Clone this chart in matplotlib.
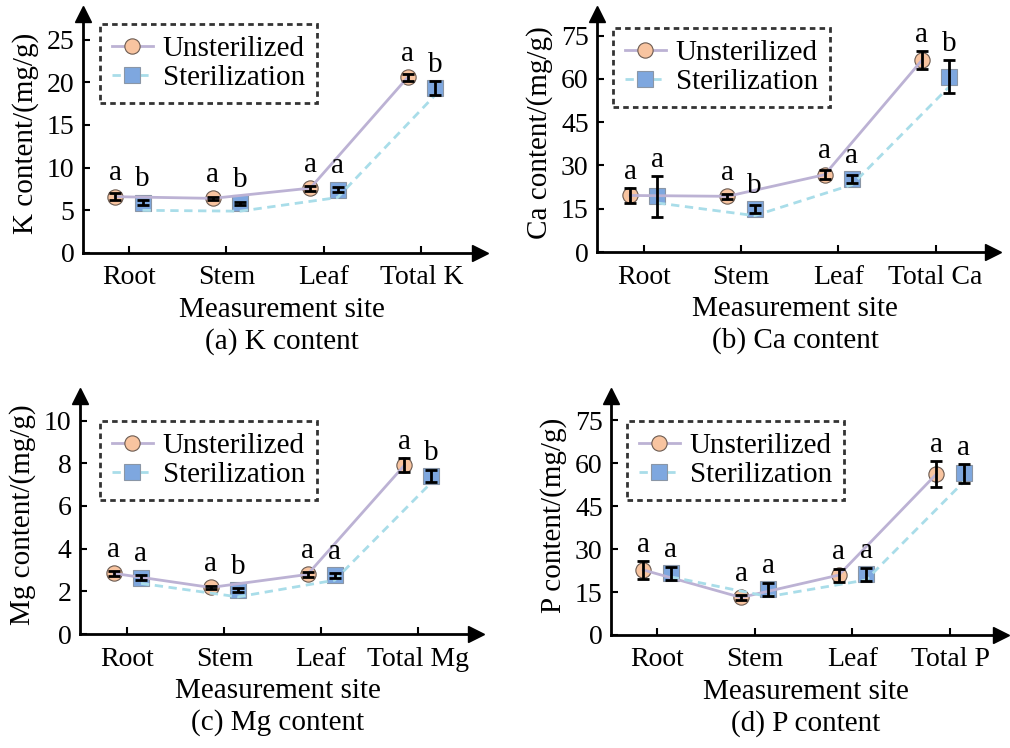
import matplotlib.pyplot as plt
import numpy as np

plt.rcParams["font.family"] = ["Liberation Serif", "DejaVu Serif"]

sites = ["Root", "Stem", "Leaf"]
legend_names = ["Unsterilized", "Sterilization"]

# K content (mg/g)
k_unster = [6.6, 6.4, 7.6, 20.6]
k_unster_err = [0.4, 0.2, 0.3, 0.4]
k_ster = [5.9, 5.8, 7.4, 19.3]
k_ster_err = [0.3, 0.2, 0.3, 0.8]
k_ster_line = [5.0, 4.9, 6.5, 18.5]
k_letters_u = ["a", "a", "a", "a"]
k_letters_s = ["b", "b", "a", "b"]

# Ca content (mg/g)
ca_unster = [19.6, 19.3, 26.8, 66.5]
ca_unster_err = [2.7, 0.8, 1.5, 3.2]
ca_ster = [19.3, 14.9, 25.3, 60.8]
ca_ster_err = [7.0, 1.5, 1.5, 5.8]
ca_ster_line = [17.0, 12.6, 23.3, 57.3]
ca_letters_u = ["a", "a", "a", "a"]
ca_letters_s = ["a", "b", "a", "b"]

# Mg content (mg/g)
mg_unster = [2.84, 2.18, 2.79, 7.9]
mg_unster_err = [0.1, 0.08, 0.1, 0.33]
mg_ster = [2.63, 2.06, 2.76, 7.4]
mg_ster_err = [0.12, 0.08, 0.12, 0.3]
mg_ster_line = [2.37, 1.74, 2.52, 7.1]
mg_letters_u = ["a", "a", "a", "a"]
mg_letters_s = ["a", "b", "a", "b"]

# P content (mg/g)
p_unster = [22.7, 13.1, 20.9, 56.2]
p_unster_err = [3.2, 1.0, 2.3, 4.6]
p_ster = [21.5, 15.9, 21.2, 56.4]
p_ster_err = [2.3, 2.2, 2.2, 3.3]
p_ster_line = [20.3, 13.4, 19.2, 53.5]
p_letters_u = ["a", "a", "a", "a"]
p_letters_s = ["a", "a", "a", "a"]

C_UNSTER_FILL = "#f8c4a0"
C_UNSTER_EDGE = "#6b5a50"
C_UNSTER_LINE = "#bcb2d4"
C_STER_FILL = "#7ea7df"
C_STER_EDGE = "#8a96a6"
C_STER_LINE = "#a9dde9"

W, H = 1010, 748
fig = plt.figure(figsize=(W / 100, H / 100), dpi=100)


def px_axes(left, right, bottom, top):
    # pixel box (from the top-left corner) -> figure fraction
    return fig.add_axes([left / W, 1 - bottom / H, (right - left) / W, (bottom - top) / H])


def panel(box, xlim, ymax, yticks, unster, unster_err, ster, ster_err, ster_line,
          let_u, let_s, total_name, ylabel, title, leg_box):
    ax = px_axes(*box)
    x = np.arange(1, 5)
    off = 0.14
    xu = x - off
    xs = x + off

    # markers first, then lines and error bars on top (as in the original figure)
    ax.plot(xu, unster, "o", ms=11, mfc=C_UNSTER_FILL, mec=C_UNSTER_EDGE, mew=0.8, zorder=2)
    ax.plot(xs, ster, "s", ms=11, mfc=C_STER_FILL, mec=C_STER_EDGE, mew=0.8, zorder=2)
    ax.plot(xu, unster, "-", color=C_UNSTER_LINE, lw=2, zorder=3)
    ax.plot(xs, ster_line, "--", color=C_STER_LINE, lw=2, dashes=(3, 2), zorder=3)
    ax.errorbar(xu, unster, yerr=unster_err, fmt="none", ecolor="black", elinewidth=2,
                capsize=4, capthick=2, zorder=4)
    ax.errorbar(xs, ster, yerr=ster_err, fmt="none", ecolor="black", elinewidth=2,
                capsize=4, capthick=2, zorder=4)

    ax.set_xlim(*xlim)
    ax.set_ylim(0, ymax)
    ax.set_yticks(yticks)
    ax.set_xticks(x)
    ax.set_xticklabels(sites + [total_name])
    ax.tick_params(direction="in", length=5, width=1.5, labelsize=20, pad=6)
    ax.tick_params(axis="x", pad=9)
    for s in ["top", "right"]:
        ax.spines[s].set_visible(False)
    for s in ["left", "bottom"]:
        ax.spines[s].set_linewidth(2)
    ax.plot(1, 0, ">k", ms=11, transform=ax.get_yaxis_transform(), clip_on=False)
    ax.plot(xlim[0], 1, "^k", ms=11, transform=ax.get_xaxis_transform(), clip_on=False)

    ax.set_xlabel("Measurement site", fontsize=21, labelpad=5)
    ax.set_ylabel(ylabel, fontsize=21, labelpad=6)
    ax.text(0.5, -89 / (box[2] - box[3]), title, transform=ax.transAxes, ha="center",
            va="center", fontsize=21)

    # significance letters just above marker / error bar
    pts_per_unit = (box[2] - box[3]) * 0.72 / ymax
    for xi, v, e, l in zip(xu, unster, unster_err, let_u):
        o = max(e * pts_per_unit, 5.5) + 2
        ax.annotate(l, (xi, v), xytext=(0, o), textcoords="offset points", ha="center",
                    va="bottom", fontsize=21)
    for xi, v, e, l in zip(xs, ster, ster_err, let_s):
        o = max(e * pts_per_unit, 5.5) + 2
        ax.annotate(l, (xi, v), xytext=(0, o), textcoords="offset points", ha="center",
                    va="bottom", fontsize=21)

    hu, = ax.plot([], [], "-o", color=C_UNSTER_LINE, lw=2, ms=11, mfc=C_UNSTER_FILL,
                  mec=C_UNSTER_EDGE, mew=0.8)
    hs, = ax.plot([], [], "--s", color=C_STER_LINE, lw=2, dashes=(3, 2), ms=11,
                  mfc=C_STER_FILL, mec=C_STER_EDGE, mew=0.8)
    l0, r0, t0, b0 = leg_box
    leg = ax.legend([hu, hs], legend_names, loc="upper left",
                    bbox_to_anchor=((l0 - box[0]) / (box[1] - box[0]),
                                    (box[2] - t0) / (box[2] - box[3])),
                    fontsize=21, frameon=True, fancybox=False, handlelength=1.4,
                    borderpad=0.4, labelspacing=0.1, handletextpad=0.35, borderaxespad=0)
    fr = leg.get_frame()
    fr.set_edgecolor("black")
    fr.set_linewidth(2)
    fr.set_linestyle((0, (2, 1.5)))
    return ax


panel((83, 480, 253, 14), (0.53, 4.6), 28.0, [0, 5, 10, 15, 20, 25],
      k_unster, k_unster_err, k_ster, k_ster_err, k_ster_line, k_letters_u, k_letters_s,
      "Total K", "K content/(mg/g)", "(a) K content", (100, 316, 24, 102))
panel((597, 993, 252, 14), (0.52, 4.59), 82.5, [0, 15, 30, 45, 60, 75],
      ca_unster, ca_unster_err, ca_ster, ca_ster_err, ca_ster_line, ca_letters_u, ca_letters_s,
      "Total Ca", "Ca content/(mg/g)", "(b) Ca content", (613, 824, 28, 99))
panel((80, 476, 634, 396), (0.51, 4.6), 11.15, [0, 2, 4, 6, 8, 10],
      mg_unster, mg_unster_err, mg_ster, mg_ster_err, mg_ster_line, mg_letters_u, mg_letters_s,
      "Total Mg", "Mg content/(mg/g)", "(c) Mg content", (100, 316, 421, 502))
panel((611, 1001, 635, 396), (0.53, 4.52), 83.4, [0, 15, 30, 45, 60, 75],
      p_unster, p_unster_err, p_ster, p_ster_err, p_ster_line, p_letters_u, p_letters_s,
      "Total P", "P content/(mg/g)", "(d) P content", (627, 847, 421, 499))

fig.savefig("out.png", dpi=100)
